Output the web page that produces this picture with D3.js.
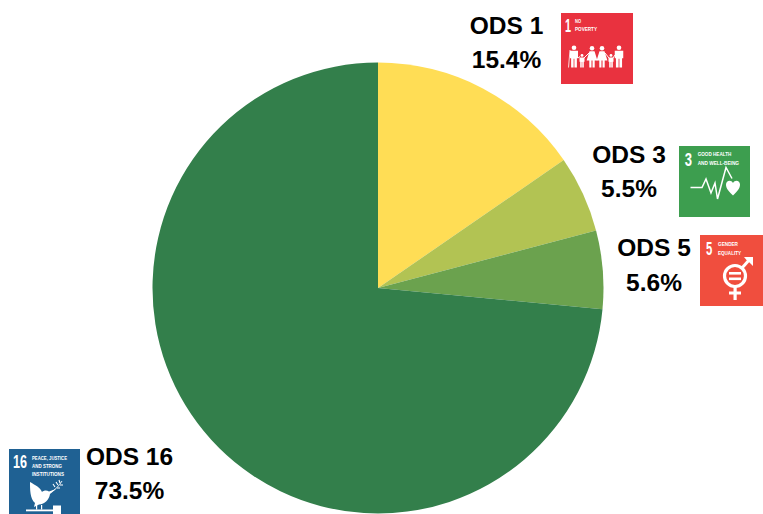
<!DOCTYPE html>
<html><head><meta charset="utf-8">
<script src="https://d3js.org/d3.v7.min.js"></script>
<style>html,body{margin:0;padding:0;background:#fff;overflow:hidden}svg{display:block}</style>
</head><body><svg id="c" width="763" height="514"></svg>
<script>
const categories=["ODS 1","ODS 3","ODS 5","ODS 16"];
const values=[15.4,5.5,5.6,73.5];
const percentLabels=["15.4%","5.5%","5.6%","73.5%"];
const sliceColors=["#FFDD55","#B2C353","#6BA24E","#337F4B"];
const goalNumbers=["1","3","5","16"];
const goalTitles=[["NO","POVERTY"],["GOOD HEALTH","AND WELL-BEING"],["GENDER","EQUALITY"],["PEACE, JUSTICE","AND STRONG","INSTITUTIONS"]];
const iconColors=["#E9323F","#3D9E4F","#F04E3E","#1F6193"];

const labelLayout=[{x:506.5,y1:34,y2:68},{x:629,y1:163,y2:197},{x:654,y1:256,y2:290.5},{x:129.500,y1:465,y2:499}];
const iconLayout=[{x:561,y:13,w:72},{x:679,y:146,w:71},{x:700,y:235,w:71},{x:9,y:449,w:71}];
const iconHeight=71, cx=378, cy=288, radius=225.5;

const svg=d3.select("#c");
const pie=d3.pie().sort(null).value(d=>d);
const arc=d3.arc().innerRadius(0).outerRadius(radius);
svg.append("g").attr("transform",`translate(${cx},${cy})`)
  .selectAll("path").data(pie(values)).join("path")
  .attr("d",arc).attr("fill",(d,i)=>sliceColors[i]);

const font="'Liberation Sans',Arial,sans-serif";
const labels=svg.append("g").attr("font-family",font).attr("font-weight",700).attr("font-size",24.5).attr("fill","#000").attr("text-anchor","middle");
categories.forEach((c,i)=>{
  const l=labelLayout[i];
  labels.append("text").attr("x",l.x).attr("y",l.y1).text(c);
  labels.append("text").attr("x",l.x).attr("y",l.y2).text(percentLabels[i]);
});

function person(g,x,top,h,w,female){
  const r=h*0.105;
  g.append("circle").attr("cx",x).attr("cy",top+r).attr("r",r).attr("fill","#fff");
  const t=top+2*r+0.7, b=top+h;
  if(female){
    g.append("path").attr("fill","#fff").attr("d",`M${x-w*.28},${t}H${x+w*.28}L${x+w*.6},${top+h*.68}H${x+w*.3}V${b}H${x+w*.06}V${top+h*.68}H${x-w*.06}V${b}H${x-w*.3}V${top+h*.68}H${x-w*.6}Z`);
  } else {
    g.append("path").attr("fill","#fff").attr("d",`M${x-w*.5},${t}H${x+w*.5}V${top+h*.58}H${x+w*.36}V${b}H${x+w*.05}V${top+h*.6}H${x-w*.05}V${b}H${x-w*.36}V${top+h*.58}H${x-w*.5}Z`);
  }
}
const line=d3.line();
const stroke=(g,pts,w)=>g.append("path").attr("d",line(pts)).attr("stroke","#fff").attr("stroke-width",w).attr("fill","none");
const pictos=[
  g=>{
    person(g,13,32.500,22,8,false);
    person(g,21,41,13.5,5,false);
    person(g,31,33,21.5,9,true);
    person(g,41,33,21.5,9,true);
    person(g,50,41,13.5,5,false);
    person(g,58,32.500,22,8.500,false);
    stroke(g,[[9,37],[7.5,54.5]],.8);
    stroke(g,[[17,45],[19,43.500]],1);
    stroke(g,[[23,45],[28,40]],1);
    stroke(g,[[44,40],[48,45]],1);
    stroke(g,[[52,45],[54,42]],1);
  },
  g=>{
    stroke(g,[[11.500,41.500],[23,41.500],[27,33],[32,47],[36,37],[38.500,53],[47,21.500],[53,32.500]],1.5);
    g.append("path").attr("fill","#fff").attr("d","M54,49.500C48,44 47,41 47,38.500C47,34.500 52,33 54,37C56,33 61,34.500 61,38.500C61,41 60,44 54,49.500Z");
  },
  g=>{
    g.append("circle").attr("cx",35).attr("cy",41).attr("r",10.500).attr("fill","none").attr("stroke","#fff").attr("stroke-width",3.2);
    g.append("rect").attr("x",29).attr("y",37).attr("width",12).attr("height",2.6).attr("fill","#fff");
    g.append("rect").attr("x",29).attr("y",42.500).attr("width",12).attr("height",2.6).attr("fill","#fff");
    stroke(g,[[42,33],[50,24]],3);
    g.append("path").attr("fill","#fff").attr("d","M44,22H53V31L49.500,27.500L46.500,25Z");
    g.append("rect").attr("x",33.500).attr("y",52).attr("width",3.2).attr("height",13).attr("fill","#fff");
    g.append("rect").attr("x",29).attr("y",56.500).attr("width",12).attr("height",3).attr("fill","#fff");
  },
  g=>{
    g.append("path").attr("fill","#fff").attr("d","M21,33C26,36 31,38 33,43C35,41 38,41 40,42.500L47,40L41,45C40,51 36,55 30,55.500L25,58L26,54C21,50 21,40 21,33Z");
    g.append("path").attr("d","M42,43C46,41 50,37 53,32").attr("fill","none").attr("stroke","#fff").attr("stroke-width",.9);
    g.append("path").attr("d","M46,38l-2,-3M49,36l-2,-3M51,34l-1,-3M48,39l3,0M51,36l3,0").attr("fill","none").attr("stroke","#fff").attr("stroke-width",1.1);
    g.append("rect").attr("x",17).attr("y",60.500).attr("width",27).attr("height",1.8).attr("fill","#fff");
    g.append("rect").attr("x",44).attr("y",56.500).attr("width",8).attr("height",9).attr("fill","#fff");
    g.append("rect").attr("x",27).attr("y",56).attr("width",1.2).attr("height",4.500).attr("fill","#fff");
    g.append("rect").attr("x",32).attr("y",56).attr("width",1.2).attr("height",4.500).attr("fill","#fff");
  }
];
const numX=[4,5.700,6,4];
const numW=[6,7.300,6.300,14];
const numBase=[19,20,20,19];
const titleX=[14,18.700,18,23];
const titleW=[[6,22],[33.600,41.300],[20,23],[35,30,32]];
const titleBase=[[10,18],[10.300,19],[10.500,19.500],[11,19,27]];
iconLayout.forEach((p,i)=>{
  const g=svg.append("g").attr("transform",`translate(${p.x},${p.y})`);
  g.append("rect").attr("width",p.w).attr("height",iconHeight).attr("fill",iconColors[i]);
  g.append("text").attr("x",numX[i]).attr("y",numBase[i]).attr("fill","#fff").attr("font-family",font).attr("font-weight",700).attr("font-size",18)
    .attr("textLength",numW[i]).attr("lengthAdjust","spacingAndGlyphs").text(goalNumbers[i]);
  goalTitles[i].forEach((t,j)=>{
    g.append("text").attr("x",titleX[i]).attr("y",titleBase[i][j]).attr("fill","#fff").attr("font-family",font).attr("font-weight",700).attr("font-size",6.2)
      .attr("textLength",titleW[i][j]).attr("lengthAdjust","spacingAndGlyphs").text(t);
  });
  pictos[i](g);
});
</script>
</body></html>
